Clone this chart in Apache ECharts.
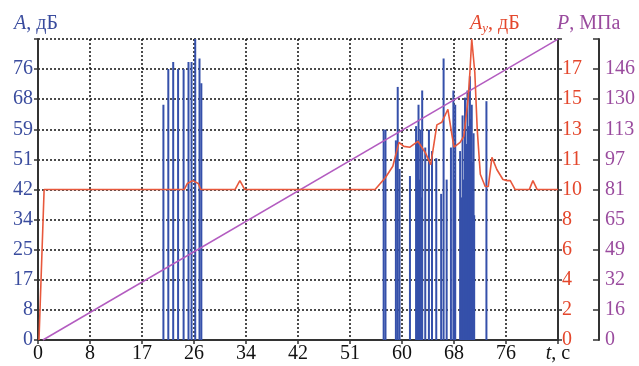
<!DOCTYPE html>
<html><head><meta charset="utf-8">
<script src="https://cdn.jsdelivr.net/npm/echarts@6/dist/echarts.min.js"></script>
<style>html,body{margin:0;padding:0;background:#fff}#c{width:639px;height:366px}</style>
</head><body><div id="c"></div>
<script>
// tick labels
const tLabels = ['0','8','17','26','34','42','51','60','68','76'];
const aLabels = ['0','8','17','25','34','42','51','59','68','76'];
const ayLabels = ['0','2','4','6','8','10','11','13','15','17'];
const pLabels = ['0','16','32','49','65','81','97','113','130','146'];
// A, dB pulses (time s, amplitude dB)
const barT = [20.5,21.3,22.1,22.9,23.8,24.6,25.1,25.7,26.4,26.7,
  56.5,56.8,58.5,58.8,59.1,60.8,61.8,62.0,62.2,62.3,62.5,62.6,62.8,63.3,63.9,64.4,65.1,65.9,66.3,66.8,67.5,67.9,68.0,68.2,
  69.0,69.3,69.4,69.6,69.8,69.9,70.0,70.2,70.4,70.6,70.7,70.9,71.0,71.2,71.3,73.3];
const barA = [66,76,78,76,76,78,78,85,79,72,
  59,59,56,71,48,46,60,56,66,45,59,40,70,54,59,53,51,41,79,45,54,70,45,66,
  53,40,63,45,68,50,55,70,60,74,62,66,50,58,35,67];
// A_y, dB curve
const ayT = [0.16,1.0,23.9,24.4,25.3,26.2,26.6,32.2,33.0,33.8,55.1,56.8,58.0,59.0,59.8,60.8,62.1,63.3,64.2,65.2,66.0,67.0,67.7,68.0,69.0,69.6,70.3,70.6,70.9,71.4,71.8,72.3,73.1,73.6,74.2,75.0,76.0,76.7,77.2,78.0,80.3,80.9,81.6,85];
const ayV = [0,9.44,9.44,9.82,10.0,9.82,9.44,9.44,10.0,9.44,9.44,10.2,10.9,12.4,12.15,12.1,12.47,11.77,11.0,13.5,13.66,14.48,12.78,12.1,12.4,12.78,15.1,16.8,18.89,16.8,13.2,10.4,9.63,9.63,11.46,10.7,10.07,10.0,10.0,9.44,9.44,10.0,9.44,9.44];
// P, MPa ramp
const pT = [0.8, 85];
const pV = [0, 162.2];

const FONT = 'Liberation Serif';
const FS = 20;
const BLUE = '#3a4c9e', RED = '#e4472c', PURPLE = '#9a4b9e';
const AX = '#333';
const grid = {type:[2,2], color:'#111', width:1.5};

const chart = echarts.init(document.getElementById('c'), null, {renderer:'canvas'});
chart.setOption({
  backgroundColor:'#fff',
  animation:false,
  grid:{left:38, right:81, top:39, bottom:26, containLabel:false},
  xAxis:{type:'value', min:0, max:85, interval:8.5,
    axisLine:{lineStyle:{color:AX, width:2}},
    axisTick:{show:true, length:4, lineStyle:{color:AX, width:1.5}},
    splitLine:{show:true, lineStyle:grid},
    axisLabel:{color:'#111', fontFamily:FONT, fontSize:FS, margin:4, showMaxLabel:true,
      formatter:v=>{const i=Math.round(v/8.5); return i<10?tLabels[i]:'{i|t}, c';},
      rich:{i:{fontStyle:'italic', fontFamily:FONT, fontSize:FS, color:'#111'}}}
  },
  yAxis:[
    {type:'value', min:0, max:76*10/9, interval:76/9, position:'left',
      axisLine:{show:true, lineStyle:{color:AX, width:2}},
      axisTick:{show:true, length:4, lineStyle:{color:AX, width:1.5}},
      splitLine:{show:true, lineStyle:grid},
      axisLabel:{color:BLUE, fontFamily:FONT, fontSize:FS, margin:5,
        formatter:v=>aLabels[Math.round(v/(76/9))]||''}},
    {type:'value', min:0, max:17*10/9, interval:17/9, position:'right',
      axisLine:{show:true, lineStyle:{color:AX, width:2}},
      axisTick:{show:true, length:4, lineStyle:{color:AX, width:1.5}},
      splitLine:{show:false},
      axisLabel:{color:RED, fontFamily:FONT, fontSize:FS, margin:4,
        formatter:v=>ayLabels[Math.round(v/(17/9))]||''}},
    {type:'value', min:0, max:146*10/9, interval:146/9, position:'right', offset:41,
      axisLine:{show:true, lineStyle:{color:AX, width:2}},
      axisTick:{show:true, inside:true, length:6, lineStyle:{color:AX, width:1.5}},
      splitLine:{show:false},
      axisLabel:{color:PURPLE, fontFamily:FONT, fontSize:FS, margin:6,
        formatter:v=>pLabels[Math.round(v/(146/9))]||''}}
  ],
  series:[
    {type:'bar', xAxisIndex:0, yAxisIndex:0, barWidth:2, barGap:'-100%',
      itemStyle:{color:'#3550aa'}, z:3,
      data:barT.map((t,i)=>[t,barA[i]])},
    {type:'line', yAxisIndex:1, showSymbol:false, symbol:'none', z:5,
      lineStyle:{color:'#e8583c', width:1.6},
      data:ayT.map((t,i)=>[t,ayV[i]])},
    {type:'line', yAxisIndex:2, showSymbol:false, symbol:'none', z:4,
      lineStyle:{color:'#b35cc0', width:1.5},
      data:pT.map((t,i)=>[t,pV[i]])}
  ],
  graphic:[
    {type:'text', left:14, top:14, style:{text:'{i|A}, дБ', font:FS+'px '+FONT, fill:BLUE,
      rich:{i:{fontStyle:'italic', fontFamily:FONT, fontSize:FS, fill:BLUE}}}},
    {type:'text', left:470, top:14, style:{text:'{i|A}{s|y}, дБ', font:FS+'px '+FONT, fill:RED,
      rich:{i:{fontStyle:'italic', fontFamily:FONT, fontSize:FS, fill:RED},
            s:{fontStyle:'italic', fontFamily:FONT, fontSize:13, fill:RED, padding:[10,0,0,0]}}}},
    {type:'text', left:557, top:14, style:{text:'{i|P}, МПа', font:FS+'px '+FONT, fill:PURPLE,
      rich:{i:{fontStyle:'italic', fontFamily:FONT, fontSize:FS, fill:PURPLE}}}}
  ]
});
</script></body></html>
